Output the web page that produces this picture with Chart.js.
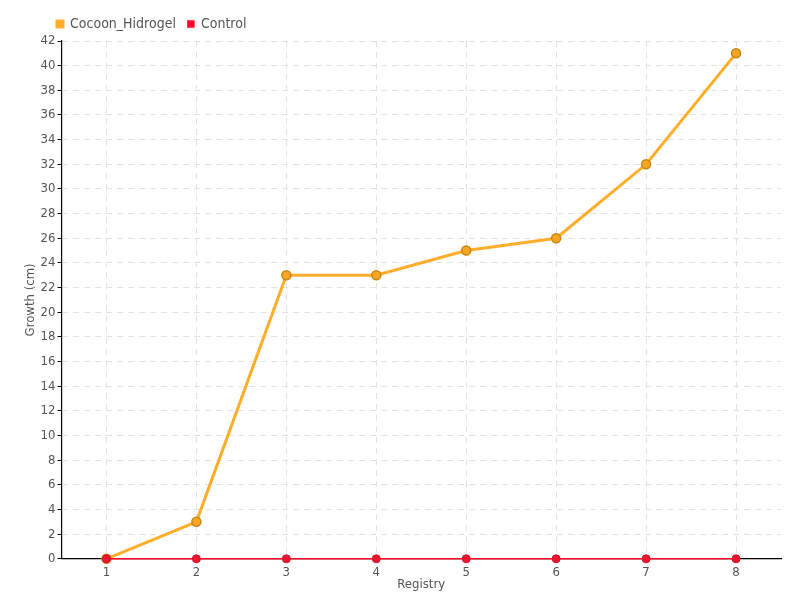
<!DOCTYPE html>
<html>
<head>
<meta charset="utf-8">
<script src="https://cdn.jsdelivr.net/npm/chart.js@4"></script>
<style>
  body { margin: 0; background: #fff; }
  #wrap { width: 800px; height: 600px; }
</style>
</head>
<body>
<div id="wrap"><canvas id="growthChart"></canvas></div>
<script>
const registry = ["1", "2", "3", "4", "5", "6", "7", "8"];
const cocoonHidrogel = [0, 3, 23, 23, 25, 26, 32, 41];
const control = [0, 0, 0, 0, 0, 0, 0, 0];

Chart.defaults.font.family = "'DejaVu Sans Condensed', 'Liberation Sans Narrow', sans-serif";
Chart.defaults.font.size = 13;
Chart.defaults.color = "#555";

const ctx = document.getElementById("growthChart").getContext("2d");
new Chart(ctx, {
  type: "line",
  data: {
    labels: registry,
    datasets: [{
      label: "Control",
      data: control,
      borderColor: "#ff0a28",
      backgroundColor: "#ff0a28",
      pointBackgroundColor: "#ee1530",
      pointBorderColor: "#d01028",
      borderWidth: 1.5,
      pointRadius: 4,
      pointBorderWidth: 1,
      clip: false,
      tension: 0
    }, {
      label: "Cocoon_Hidrogel",
      data: cocoonHidrogel,
      borderColor: "#ffad2a",
      backgroundColor: "#ffad2a",
      pointBackgroundColor: "#f5a623",
      pointBorderColor: "#c98614",
      borderWidth: 3,
      pointRadius: 4.5,
      pointBorderWidth: 1.5,
      clip: false,
      tension: 0
    }]
  },
  options: {
    responsive: true,
    maintainAspectRatio: false,
    animation: false,
    layout: { padding: { left: 23, right: 19, top: 5, bottom: 8 } },
    plugins: {
      legend: {
        align: "start",
        reverse: true,
        labels: { boxWidth: 6, boxHeight: 6, padding: 12, font: { size: 14 } }
      },
      tooltip: { enabled: false }
    },
    scales: {
      x: {
        offset: true,
        grid: { offset: false, color: "#e2e2e2", tickColor: "#333", tickLength: 3 },
        border: { color: "#000", width: 1.2, dash: [6, 5] },
        ticks: { padding: 3 },
        title: { display: true, text: "Registry", padding: { top: -7, bottom: 0 }, font: { size: 13 } }
      },
      y: {
        min: 0,
        max: 42,
        ticks: { stepSize: 2, padding: 2 },
        grid: { color: "#e2e2e2", tickColor: "#000", tickLength: 4 },
        border: { color: "#000", width: 1.2, dash: [6, 5] },
        title: { display: true, text: "Growth (cm)", padding: 0, font: { size: 13 } }
      }
    }
  },
  plugins: [{
    id: "legendShift",
    afterLayout(chart) {
      chart.legend.left += 22;
      chart.legend.right += 22;
    }
  }]
});
</script>
</body>
</html>
